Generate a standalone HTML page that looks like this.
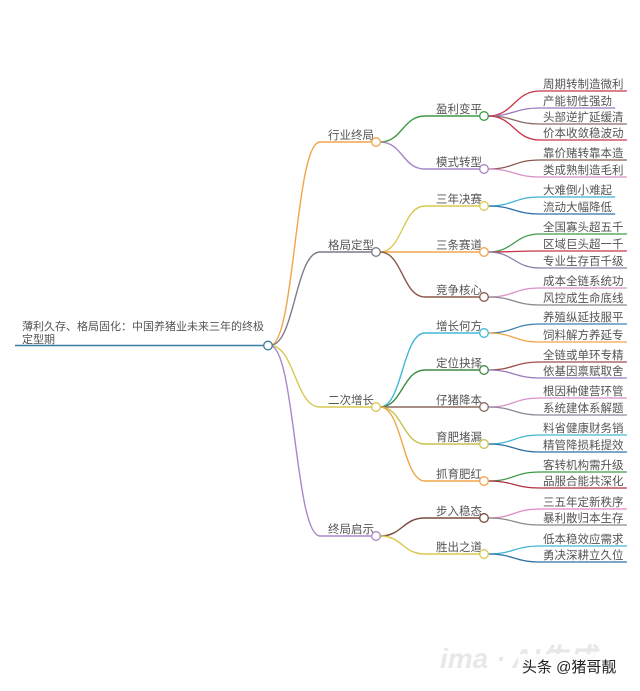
<!DOCTYPE html>
<html><head><meta charset="utf-8"><style>
html,body{margin:0;padding:0;background:#fff;width:640px;height:691px;overflow:hidden}
svg text{font-family:"Liberation Sans","Noto Sans CJK SC",sans-serif;fill:#555}
</style></head><body>
<svg id="s" width="640" height="691" xmlns="http://www.w3.org/2000/svg">
<text x="22" y="330" font-size="11">薄利久存、格局固化：中国养猪业未来三年的终极</text>
<text x="22" y="343" font-size="11">定型期</text>
<line x1="15" y1="345.5" x2="264" y2="345.5" stroke="#3a7ca5" stroke-width="1.6"/>
<text x="440" y="668" font-size="28" font-style="italic" style="fill:#e8e8e8" font-weight="bold">ima · AI生成</text>
<rect x="518" y="654" width="112" height="24" fill="#fff" opacity="0.85"/>
<text x="522" y="672" font-size="15" style="fill:#222">头条 @猪哥靓</text>
</svg>
<script>
var s=document.getElementById('s'),NS='http://www.w3.org/2000/svg';
function el(t,a,txt){var e=document.createElementNS(NS,t);for(var k in a)e.setAttribute(k,a[k]);if(txt)e.textContent=txt;s.appendChild(e);return e;}
var circles=[];
function link(x1,y1,x2,y2,xe,c,w){el('path',{d:'M'+x1+' '+y1+' C'+((x1+x2)/2)+' '+y1+','+((x1+x2)/2)+' '+y2+','+x2+' '+y2+' L'+xe+' '+y2,fill:'none',stroke:c,'stroke-width':w});}
var data=[
['行业终局',142,'#f0a54a',[
 ['盈利变平',116,'#3f9a45',[['周期转制造微利',91,'#c8344a'],['产能韧性强劲',108,'#9a7ac0'],['头部逆扩延缓清',124,'#8a6a6a'],['价本收敛稳波动',140,'#c8344a']]],
 ['模式转型',169,'#a585c8',[['靠价赌转靠本造',160,'#8a5a50'],['类成熟制造毛利',177,'#d890c8']]]]],
['格局定型',252,'#7a7a8a',[
 ['三年决赛',206,'#dcc850',[['大难倒小难起',197,'#40b0d0'],['流动大幅降低',214,'#3070a8']]],
 ['三条赛道',252,'#f0a54a',[['全国寡头超五千',234,'#3f9a45'],['区域巨头超一千',251,'#c8344a'],['专业生存百千级',268,'#8a80a8']]],
 ['竞争核心',297,'#8a5a4a',[['成本全链系统功',288,'#d890c8'],['风控成生命底线',305,'#8a8a8a']]]]],
['二次增长',407,'#d8c850',[
 ['增长何方',333,'#40b8d8',[['养殖纵延技服平',324,'#3a80b0'],['饲料解方养延专',342,'#f0a54a']]],
 ['定位抉择',370,'#3f8a45',[['全链或单环专精',362,'#a04a4a'],['依基因禀赋取舍',378,'#9a7ac0']]],
 ['仔猪降本',407,'#8a6a60',[['根因种健营环管',398,'#d890c8'],['系统建体系解题',415,'#8a8a9a']]],
 ['育肥堵漏',444,'#c8c050',[['料省健康财务销',435,'#40b8d0'],['精管降损耗提效',452,'#3070a0']]],
 ['抓育肥红',481,'#f0a54a',[['客转机构需升级',472,'#3f9a45'],['品服合能共深化',488,'#b03040']]]]],
['终局启示',536,'#a888c8',[
 ['步入稳态',518,'#7a4a3a',[['三五年定新秩序',509,'#e088c0'],['暴利散归本生存',525,'#8a8a8a']]],
 ['胜出之道',554,'#dcc850',[['低本稳效应需求',546,'#40b8d0'],['勇决深耕立久位',562,'#3070a0']]]]]
];
data.forEach(function(a){
 link(270,345.5,320,a[1],372,a[2],1.4);
 el('text',{x:328,y:a[1]-3,'font-size':11.5},a[0]);
 circles.push([376,a[1],a[2]]);
 a[3].forEach(function(b){
  link(380,a[1],425,b[1],480,b[2],1.4);
  el('text',{x:436,y:b[1]-3,'font-size':11.5},b[0]);
  circles.push([484,b[1],b[2]]);
  b[3].forEach(function(c){
   var end=543+c[0].length*11.7+2;
   link(488,b[1],540,c[1],end,c[2],1.3);
   el('text',{x:543,y:c[1]-3,'font-size':11.5},c[0]);
  });
 });
});
circles.push([268,345.5,'#3a7ca5']);
circles.forEach(function(c){el('circle',{cx:c[0],cy:c[1],r:4.3,fill:'#fff',stroke:c[2],'stroke-width':1.3});});
</script>
</body></html>
